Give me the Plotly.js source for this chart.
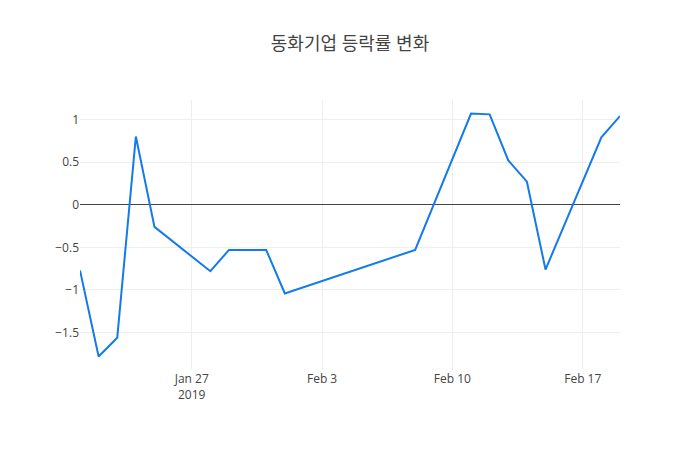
<!DOCTYPE html>
<html>
<head>
<meta charset="utf-8">
<script src="https://cdn.plot.ly/plotly-3.0.1.min.js"></script>
<style>html,body{margin:0;padding:0;background:#fff;}#chart{width:700px;height:450px;}</style>
</head>
<body>
<div id="chart"></div>
<script>
const chartTitle = '동화기업 등락률 변화';
const dates = ['2019-01-21','2019-01-22','2019-01-23','2019-01-24','2019-01-25',
  '2019-01-28','2019-01-29','2019-01-30','2019-01-31','2019-02-01',
  '2019-02-08','2019-02-11','2019-02-12','2019-02-13','2019-02-14','2019-02-15',
  '2019-02-18','2019-02-19'];
const changeRates = [-0.77,-1.78,-1.56,0.80,-0.26,
  -0.78,-0.53,-0.53,-0.53,-1.04,
  -0.53,1.07,1.06,0.52,0.27,-0.76,
  0.79,1.04];

const trace = {
  x: dates,
  y: changeRates,
  type: 'scatter',
  mode: 'lines',
  line: {color: 'rgb(18,122,235)', width: 2}
};
const layout = {
  width: 700,
  height: 450,
  title: {text: chartTitle, x: 0.5, font: {family: '"Open Sans", "Noto Sans CJK KR", sans-serif', size: 18, color: '#444'}},
  font: {family: '"Open Sans", "Noto Sans CJK KR", sans-serif', color: '#444'},
  margin: {l: 80, r: 80, t: 100, b: 80},
  xaxis: {type: 'date', showgrid: true, gridcolor: '#eee', zeroline: false},
  yaxis: {showgrid: true, gridcolor: '#eee', zeroline: true, zerolinecolor: '#444', zerolinewidth: 1},
  showlegend: false,
  paper_bgcolor: '#fff',
  plot_bgcolor: '#fff'
};
Plotly.newPlot('chart', [trace], layout, {displayModeBar: false});
</script>
</body>
</html>
